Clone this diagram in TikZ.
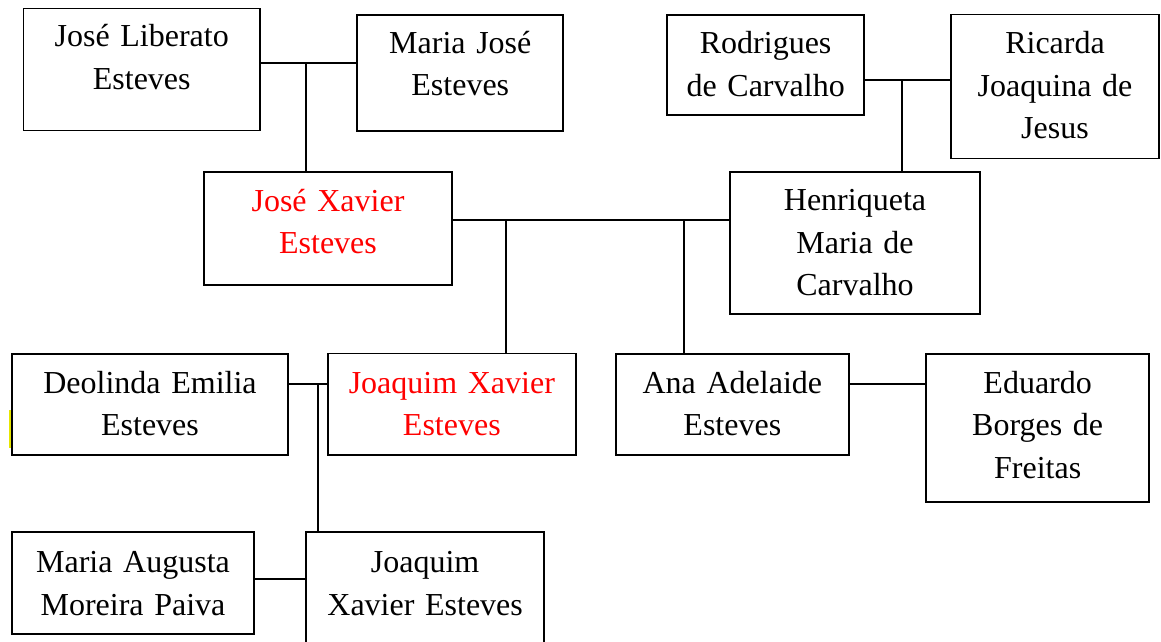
\documentclass[tikz,border=0pt]{standalone}
\usepackage{fontspec}
\setmainfont{Liberation Serif}
\definecolor{kinred}{RGB}{255,0,0}
\definecolor{markyellow}{RGB}{230,230,0}
\tikzset{
  pbox/.style={draw=black, line width=1.8pt, inner sep=0pt, outer sep=0pt, anchor=north west},
  openbox/.style={inner sep=0pt, outer sep=0pt, anchor=north west},
  ptext/.style={anchor=base, align=center, text width=240pt, inner sep=0pt,
    font=\fontsize{32pt}{42.5pt}\selectfont},
  link/.style={draw=black, line width=1.8pt},
}
\begin{document}
\begin{tikzpicture}[x=1pt,y=-1pt]
\useasboundingbox (0,0) rectangle (1161,642);

% boxes
\node[pbox, minimum width=236.5pt, minimum height=122pt]   (jl) at (23.5,8.5) {};
\node[pbox, minimum width=206pt,   minimum height=116pt]   (mj) at (357.3,14.7) {};
\node[pbox, minimum width=196.7pt, minimum height=100.3pt] (rc) at (667.3,14.7) {};
\node[pbox, minimum width=208pt,   minimum height=144pt]   (rj) at (951,14.5) {};
\node[pbox, minimum width=248pt,   minimum height=113.3pt] (jx) at (204,171.7) {};
\node[pbox, minimum width=250pt,   minimum height=142.3pt] (hm) at (730,171.7) {};
\node[pbox, minimum width=276.6pt, minimum height=101pt]   (de) at (11.7,354) {};
\node[pbox, minimum width=248.3pt, minimum height=101.5pt] (jq) at (327.7,353.5) {};
\node[pbox, minimum width=232.7pt, minimum height=101pt]   (aa) at (616,354) {};
\node[pbox, minimum width=222.7pt, minimum height=148pt]   (eb) at (926.3,354) {};
\node[pbox, minimum width=242pt,   minimum height=102pt]   (ma) at (12,532) {};
\node[openbox, minimum width=237.7pt, minimum height=109.7pt] (jb) at (306.3,532.3) {};
\draw[link] (jb.south west) -- (jb.north west) -- (jb.north east) -- (jb.south east);

% texts
\node[ptext] (jlt) at (141.75,47) {José Liberato\\Esteves};
\node[ptext] (mjt) at (460.3,53.3) {Maria José\\Esteves};
\node[ptext] (rct) at (765.65,54) {Rodrigues\\de Carvalho};
\node[ptext] (rjt) at (1055,54) {Ricarda\\Joaquina de\\Jesus};
\node[ptext, text=kinred] (jxt) at (328,211) {José Xavier\\Esteves};
\node[ptext] (hmt) at (855,210.7) {Henriqueta\\Maria de\\Carvalho};
\node[ptext] (det) at (150,393.3) {Deolinda Emilia\\Esteves};
\node[ptext, text=kinred] (jqt) at (451.85,393) {Joaquim Xavier\\Esteves};
\node[ptext] (aat) at (732.35,393.3) {Ana Adelaide\\Esteves};
\node[ptext] (ebt) at (1037.65,393) {Eduardo\\Borges de\\Freitas};
\node[ptext] (mat) at (133,572.5) {Maria Augusta\\Moreira Paiva};
\node[ptext] (jbt) at (425.15,572.5) {Joaquim\\Xavier Esteves};

% junction points
\coordinate (m1) at (306.3,63);
\coordinate (m2) at (901.7,80);
\coordinate (m3) at (505.7,220.3);
\coordinate (m4) at (684.3,220.3);
\coordinate (m5) at (318.3,384.3);
\coordinate (m6) at (0,384);
\coordinate (m7) at (0,578.7);

% connectors
\draw[link] (jl.east |- m1) -- (mj.west |- m1);
\draw[link] (m1) -- (m1 |- jx.north);
\draw[link] (rc.east |- m2) -- (rj.west |- m2);
\draw[link] (m2) -- (m2 |- hm.north);
\draw[link] (jx.east |- m3) -- (hm.west |- m3);
\draw[link] (m3) -- (m3 |- jq.north);
\draw[link] (m4) -- (m4 |- aa.north);
\draw[link] (de.east |- m5) -- (jq.west |- m5);
\draw[link] (m5) -- (m5 |- jb.north);
\draw[link] (aa.east |- m6) -- (eb.west |- m6);
\draw[link] (ma.east |- m7) -- (jb.west |- m7);

% small yellow mark at the left edge
\fill[markyellow] (8.8,410) rectangle (11,448);
\end{tikzpicture}
\end{document}
